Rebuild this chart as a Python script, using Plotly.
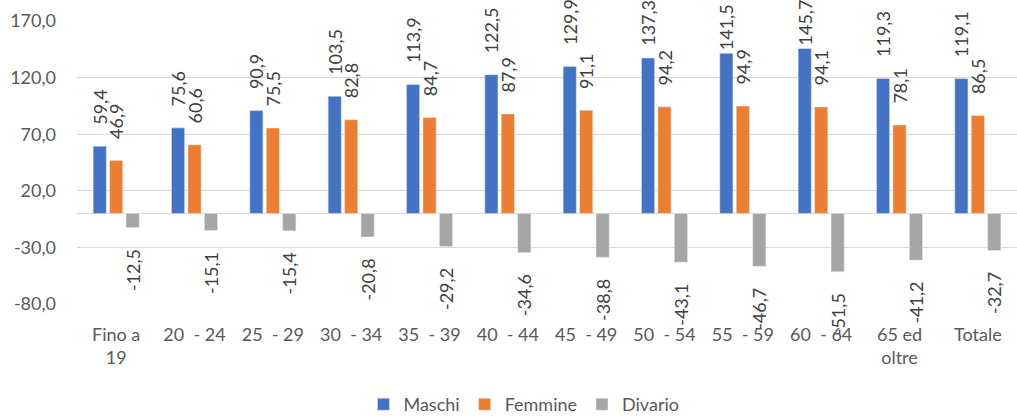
import plotly.graph_objects as go

categories = ["Fino a<br>19", "20  - 24", "25  - 29", "30  - 34", "35  - 39", "40  - 44",
              "45  - 49", "50  - 54", "55  - 59", "60  - 64", "65 ed<br>oltre", "Totale"]
maschi = [59.4, 75.6, 90.9, 103.5, 113.9, 122.5, 129.9, 137.3, 141.5, 145.7, 119.3, 119.1]
femmine = [46.9, 60.6, 75.5, 82.8, 84.7, 87.9, 91.1, 94.2, 94.9, 94.1, 78.1, 86.5]
divario = [-12.5, -15.1, -15.4, -20.8, -29.2, -34.6, -38.8, -43.1, -46.7, -51.5, -41.2, -32.7]
ytick_vals = [-80, -30, 20, 70, 120, 170]
ytick_text = ["-80,0", "-30,0", "20,0", "70,0", "120,0", "170,0"]

FONT = "Lato"


def label(v):
    s = f"{v:.1f}".replace(".", ",")
    # Excel pulls labels toward the bar when they would leave the chart area
    n = 4 if v < 134 else (2 if v < 140 else 0)
    pad = "\u00a0" * n
    return pad + s if v >= 0 else s + "\u00a0" * 4


series = [("Maschi", maschi, "#4472C4"), ("Femmine", femmine, "#ED7D31"), ("Divario", divario, "#A5A5A5")]

fig = go.Figure()
for name, vals, col in series:
    fig.add_trace(go.Bar(
        x=categories, y=vals, name=name, marker_color=col,
        text=[label(v) for v in vals], textposition="outside", textangle=-90,
        constraintext="none", cliponaxis=False,
        textfont=dict(family=FONT, size=18, color="#404040"),
    ))

fig.update_layout(
    width=1017, height=417,
    margin=dict(l=77, r=0, t=21, b=113, autoexpand=False),
    paper_bgcolor="white", plot_bgcolor="white",
    barmode="group", bargap=0.37, bargroupgap=0.2,
    font=dict(family=FONT, size=18, color="#595959"),
    legend=dict(orientation="h", x=0.4755, xanchor="center", y=-0.355, yanchor="middle",
                font=dict(family=FONT, size=18, color="#595959"), itemwidth=30),
    showlegend=True,
)
fig.update_yaxes(range=[-80, 170], tickvals=ytick_vals, ticktext=ytick_text,
                 showgrid=True, gridcolor="#D9D9D9", gridwidth=1,
                 zeroline=True, zerolinecolor="#D9D9D9", zerolinewidth=1,
                 showline=False, ticks="", automargin=False, ticklabelstandoff=20,
                 tickfont=dict(family=FONT, size=18, color="#595959"))
fig.update_xaxes(showline=False, ticks="", showgrid=False, ticklabelstandoff=18, automargin=False,
                 tickfont=dict(family=FONT, size=18, color="#595959"))

fig.write_html("out.html", config={"displayModeBar": False},
               post_script="document.body.style.margin='0';document.body.style.overflow='hidden';")
